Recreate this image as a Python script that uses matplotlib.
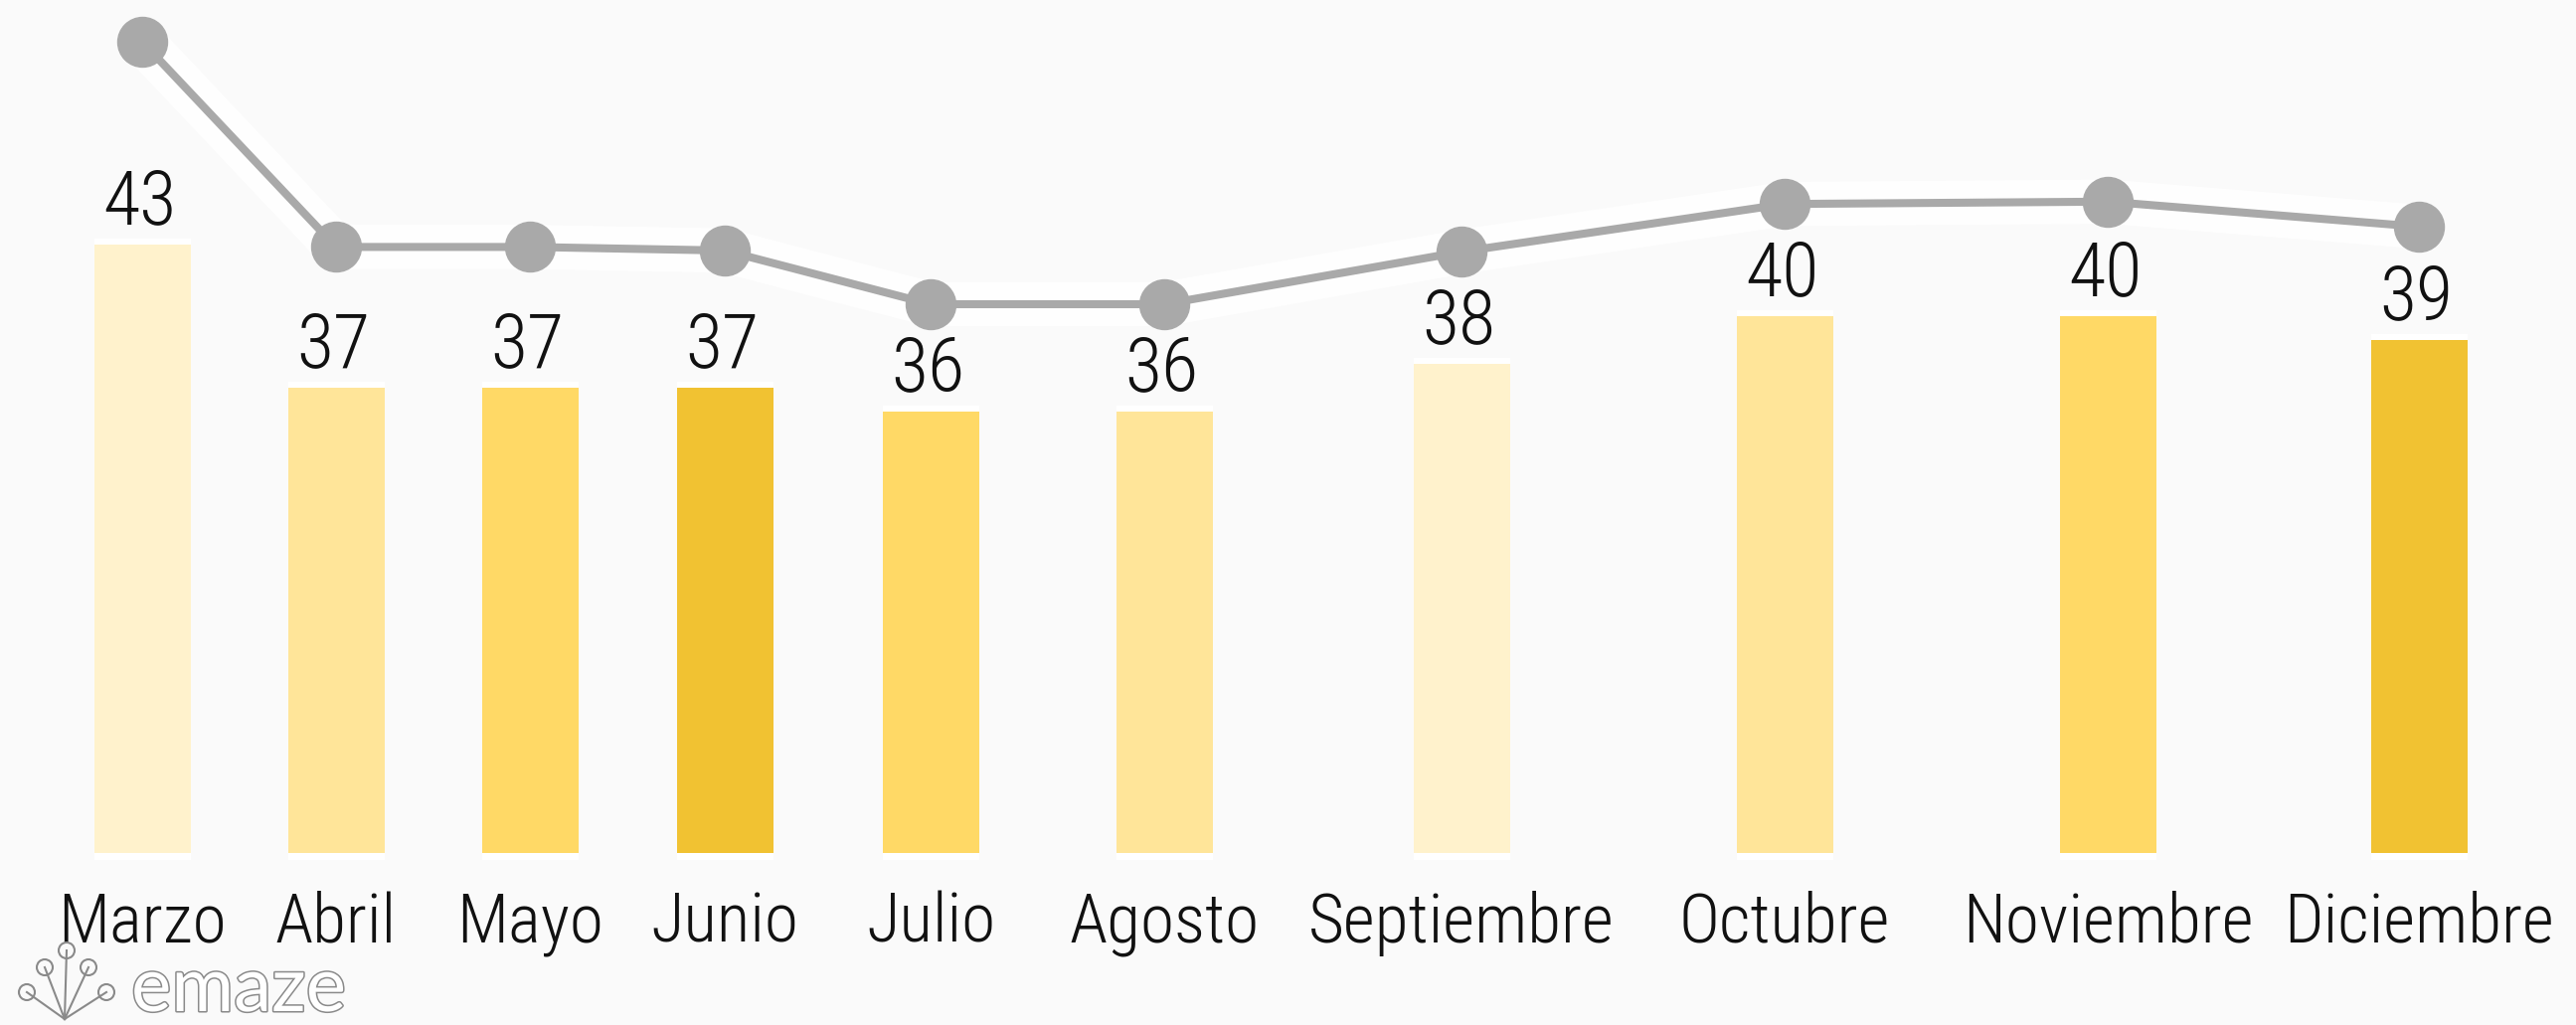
import matplotlib
matplotlib.use('Agg')
import matplotlib.pyplot as plt
import matplotlib.patheffects as pe
from matplotlib import font_manager as fm
from matplotlib.patches import Circle
import numpy as np

# data
months = ['Marzo', 'Abril', 'Mayo', 'Junio', 'Julio', 'Agosto',
          'Septiembre', 'Octubre', 'Noviembre', 'Diciembre']
bar_vals = [43, 37, 37, 37, 36, 36, 38, 40, 40, 39]
line_vals = [51.5, 42.9, 42.9, 42.75, 40.5, 40.5, 42.7, 44.7, 44.8, 43.75]

# layout (slot centres follow the uneven spacing of the original)
slot_centers = [143, 338, 533, 729, 936, 1171, 1470, 1795, 2120, 2433]
bar_colors = ['#fff2cc', '#ffe599', '#ffd966', '#f1c232', '#ffd966',
              '#ffe599', '#fff2cc', '#ffe599', '#ffd966', '#f1c232']
base = 17.5
top = 53.25
bg = '#fafafa'
gray = '#a9a9a9'


def pick_font(cands):
    for c in cands:
        try:
            fm.findfont(fm.FontProperties(family=c), fallback_to_default=False)
            return c
        except ValueError:
            pass
    return 'DejaVu Sans'


font = pick_font(['Roboto Condensed', 'Liberation Sans Narrow', 'Noto Sans Condensed',
                  'Open Sans Condensed', 'DejaVu Sans Condensed', 'Liberation Sans'])
weight = 'light' if font == 'Roboto Condensed' else 'normal'

W, H = 2591, 1031
fig = plt.figure(figsize=(W / 100, H / 100), dpi=100, facecolor=bg)
ax = fig.add_axes([0, (H - 858) / H, 1, 858 / H])
ax.set_xlim(0, W)
ax.set_ylim(base, top)
ax.axis('off')

vals = np.array(bar_vals, dtype=float)
# white glow above/below each bar
ax.bar(slot_centers, vals - base + 0.55, bottom=base - 0.3, width=97,
       color='white', zorder=1, clip_on=False)
ax.bar(slot_centers, vals - base, bottom=base, width=97,
       color=bar_colors, zorder=2, clip_on=False)

for x, v in zip(slot_centers, bar_vals):
    ax.annotate(str(v), (x, v), xytext=(-2, 15), textcoords='offset points',
                ha='center', va='baseline', fontsize=55, family=font,
                weight=weight, color='#111111', zorder=6)

# line with white halo
ax.plot(slot_centers, line_vals, color='white', lw=32, alpha=0.9,
        solid_joinstyle='round', solid_capstyle='round', zorder=3)
ax.plot(slot_centers, line_vals, color=gray, lw=5.8, zorder=4,
        marker='o', markersize=36, markerfacecolor=gray, markeredgecolor=gray)

# month labels
for x, m in zip(slot_centers, months):
    ax.text(x, -(948 - 858) / 858, m, transform=ax.get_xaxis_transform(),
            ha='center', va='baseline', fontsize=50, family=font,
            weight=weight, color='#111111')

# emaze watermark
fig.text(132 / W, 1 / H, 'emaze', ha='left', va='bottom', fontsize=55,
         family='Lato', color='white',
         path_effects=[pe.withStroke(linewidth=2.2, foreground='#8a8a8a')])
for cx, cy in [(27, 998), (45, 973), (67, 956), (89, 973), (107, 998)]:
    fig.add_artist(Circle((cx / 100, (H - cy) / 100), 0.08, fill=False,
                          ec='#8a8a8a', lw=1.5, transform=fig.dpi_scale_trans))
    fig.add_artist(plt.Line2D([cx / 100, 65 / 100], [(H - cy) / 100, 6 / 100],
                              color='#8a8a8a', lw=1.5, transform=fig.dpi_scale_trans))

fig.savefig('out.png', dpi=100, facecolor=bg)
